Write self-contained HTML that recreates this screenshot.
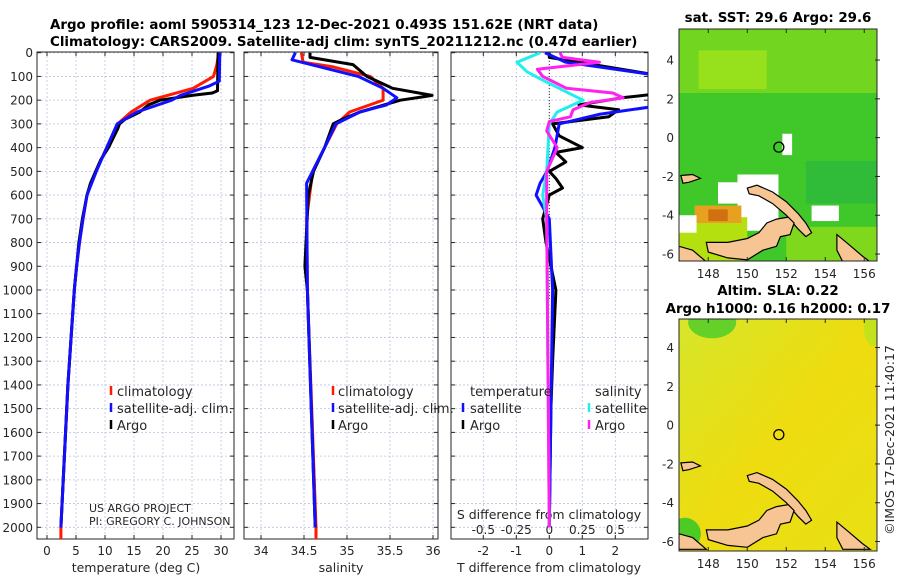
<!DOCTYPE html>
<html><head><meta charset="utf-8"><style>
body{margin:0;background:#fff}
svg text{font-family:"DejaVu Sans","Liberation Sans",sans-serif;fill:#262626}
.t{font-weight:bold;font-size:13.4px;fill:#000}
.tk{font-size:12px}
.lg{font-size:13px}
.grid{stroke:#b8c4e0;stroke-width:0.8;stroke-dasharray:2,2}
</style></head><body>
<svg id="c" width="900" height="580" xmlns="http://www.w3.org/2000/svg">
<defs>
<clipPath id="cp1"><rect x="37" y="52" width="197" height="487"/></clipPath>
<clipPath id="cp2"><rect x="244" y="52" width="194" height="487"/></clipPath>
<clipPath id="cp3"><rect x="451" y="52" width="197" height="487"/></clipPath>
<clipPath id="cm1"><rect x="679" y="29" width="198" height="232"/></clipPath>
<clipPath id="cm2"><rect x="679" y="319" width="198" height="232"/></clipPath>
<linearGradient id="g2" x1="0" y1="0" x2="1" y2="1">
<stop offset="0" stop-color="#d6e62a"/><stop offset="0.5" stop-color="#eedc10"/><stop offset="1" stop-color="#e8e014"/></linearGradient>
</defs>
<text class="t" x="50" y="29">Argo profile: aoml 5905314_123 12-Dec-2021 0.493S 151.62E (NRT data)</text>
<text class="t" x="50" y="46">Climatology: CARS2009. Satellite-adj clim: synTS_20211212.nc (0.47d earlier)</text>
<g id="p1"></g>
<g id="p2"></g>
<g id="p3"></g>
<g id="m1"></g>
<g id="m2"></g>
<text class="t" x="778" y="22" text-anchor="middle">sat. SST: 29.6 Argo: 29.6</text>
<text class="t" x="778" y="295" text-anchor="middle">Altim. SLA: 0.22</text>
<text class="t" x="778" y="313" text-anchor="middle">Argo h1000: 0.16 h2000: 0.17</text>
<text class="tk" x="0" y="0" transform="translate(894,440) rotate(-90)" text-anchor="middle" style="font-size:12.5px">©IMOS 17-Dec-2021 11:40:17</text>
</svg>
<script>
// ---- data ----
const depthTicks=[0,100,200,300,400,500,600,700,800,900,1000,1100,1200,1300,1400,1500,1600,1700,1800,1900,2000];
const tempTicks=[0,5,10,15,20,25,30];
const salTicks=[34,34.5,35,35.5,36];
const salTickLabels=["34","34.5","35","35.5","36"];
const tdiffTicks=[-2,-1,0,1,2];
const sdiffTicks=[-0.5,-0.25,0,0.25,0.5];
const sdiffTickLabels=["-0.5","-0.25","0","0.25","0.5"];

const tClimDepth=[0,50,100,150,200,250,300,400,500,600,700,800,900,1000,1400,2000,2050];
const tClimVal=[29.6,29.3,28.7,25.2,17.8,14.5,12.2,10.3,8.4,6.9,6.2,5.6,5.1,4.7,3.6,2.4,2.4];
const tSatDepth=[0,120,140,180,200,250,300,400,500,600,700,800,900,1000,1400,2000];
const tSatVal=[29.8,29.7,28,23,21.5,15.5,12.1,10.3,8.5,6.9,6.2,5.6,5.1,4.7,3.6,2.4];
const tArgoDepth=[0,160,170,180,200,220,250,280,300,320,400,450,500,550,600,700,800,900,1000,1400,2000];
const tArgoVal=[29.5,29.4,28.5,25,19.5,17.5,16,13.5,12.5,12.2,10.6,9.3,8.4,7.5,6.9,6.1,5.5,5.1,4.7,3.6,2.4];

const sClimDepth=[0,40,60,100,150,200,250,300,400,500,700,1000,2000,2050];
const sClimVal=[34.47,34.49,34.84,35.27,35.42,35.42,35.03,34.88,34.74,34.6,34.53,34.54,34.64,34.64];
const sSatDepth=[0,30,60,100,150,190,220,250,300,400,550,1000,2000];
const sSatVal=[34.4,34.36,34.69,35.13,35.42,35.58,35.46,35.15,34.87,34.74,34.53,34.54,34.63];
const sArgoDepth=[0,20,50,100,150,180,185,200,250,280,300,400,500,600,900,1000,2000];
const sArgoVal=[34.57,34.57,35.07,35.23,35.53,35.99,35.9,35.62,35.15,34.95,34.84,34.74,34.61,34.55,34.51,34.54,34.63];

const dTSatDepth=[0,40,100,220,260,300,400,500,550,600,650,700,1000,2000];
const dTSatVal=[-0.13,0.5,3.5,3.5,1.5,0.3,0.17,-0.07,-0.28,-0.4,-0.2,0,0.1,0];
const dTArgoDepth=[0,20,100,170,190,220,240,270,300,350,400,420,460,500,530,570,600,700,800,1000,1300,1500,2000];
const dTArgoVal=[0,0,3.5,3.5,2.2,0.9,2.1,1.8,0.1,0.3,1.0,0.2,0.5,0,0.2,0.4,0,-0.2,-0.1,0.2,0.1,0.05,0];
const dSSatDepth=[0,40,80,110,200,250,300,500,600,700,2000];
const dSSatVal=[-0.07,-0.245,-0.17,-0.07,0.255,0.06,0,-0.02,-0.05,-0.02,0];
const dSArgoDepth=[0,20,40,70,100,150,170,190,210,240,270,290,330,400,500,700,2000];
const dSArgoVal=[0.08,0.1,0.38,-0.09,-0.05,0.13,0.48,0.56,0.31,0.18,0.16,0,-0.02,0.06,-0.02,-0.02,0];

// ---- scales ----
const Y=d=>52.7+d*0.2373;
const X1=t=>47+5.8*t;
const X2=s=>261+86*(s-34);
const X3=t=>549.3+33*t;
const XS=s=>549.3+132*s;
const NS='http://www.w3.org/2000/svg';
function mk(p,tag,at){const e=document.createElementNS(NS,tag);for(const k in at)e.setAttribute(k,at[k]);p.appendChild(e);return e;}
function txt(p,x,y,s,cls,anchor){const e=mk(p,'text',{x:x,y:y,class:cls||'tk','text-anchor':anchor||'middle'});e.textContent=s;return e;}

function panel(g,x0,x1,xt,XF){
  depthTicks.forEach(d=>{const l=mk(g,'line',{x1:x0,x2:x1,y1:Y(d),y2:Y(d),class:'grid'});
    
    mk(g,'line',{x1:x0,x2:x0+4,y1:Y(d),y2:Y(d),stroke:'#262626'});mk(g,'line',{x1:x1-4,x2:x1,y1:Y(d),y2:Y(d),stroke:'#262626'});});
  xt.forEach(v=>{const l=mk(g,'line',{x1:XF(v),x2:XF(v),y1:52,y2:539,class:'grid'});
    
    mk(g,'line',{x1:XF(v),x2:XF(v),y1:535,y2:539,stroke:'#262626'});mk(g,'line',{x1:XF(v),x2:XF(v),y1:52,y2:56,stroke:'#262626'});});
  const b=mk(g,'rect',{x:x0,y:52,width:x1-x0,height:487,fill:'none',stroke:'#262626','stroke-width':1});
  
}
function line(g,ds,vs,XF,color,clip,name,w){
  const pts=ds.map((d,i)=>XF(vs[i]).toFixed(1)+','+Y(d).toFixed(1)).join(' ');
  const p=mk(g,'polyline',{points:pts,fill:'none',stroke:color,'stroke-width':w||3,'stroke-linejoin':'round','clip-path':'url(#'+clip+')'});
  
}
function legendBar(g,x,y,color){mk(g,'line',{x1:x,x2:x,y1:y-11,y2:y-2,stroke:color,'stroke-width':2.5});}

// panel 1
const p1=document.getElementById('p1');
panel(p1,37,234,tempTicks,X1);
depthTicks.forEach(d=>{const t=txt(p1,33,Y(d)+4.5,String(d),'tk','end');});
tempTicks.forEach(v=>{const t=txt(p1,X1(v),555,String(v));});
txt(p1,136,572,'temperature (deg C)','tk').style.fontSize='12.5px';
line(p1,tClimDepth,tClimVal,X1,'#ff1a00','cp1','temp-climatology-line');
line(p1,tArgoDepth,tArgoVal,X1,'#000','cp1','temp-argo-line');
line(p1,tSatDepth,tSatVal,X1,'#1010ff','cp1','temp-satellite-line');
[['climatology','#ff1a00'],['satellite-adj. clim.','#1010ff'],['Argo','#000']].forEach((r,i)=>{legendBar(p1,111,397+i*17,r[1]);const t=txt(p1,117,396+i*17,r[0],'lg','start');});
txt(p1,89,512,'US ARGO PROJECT','tk','start').style.fontSize='11px';
txt(p1,89,525,'PI: GREGORY C. JOHNSON','tk','start').style.fontSize='11px';

// panel 2
const p2=document.getElementById('p2');
panel(p2,244,438,salTicks,X2);
salTicks.forEach((v,i)=>{const t=txt(p2,X2(v),555,salTickLabels[i]);});
txt(p2,341,572,'salinity','tk').style.fontSize='12.5px';
line(p2,sClimDepth,sClimVal,X2,'#ff1a00','cp2','sal-climatology-line');
line(p2,sArgoDepth,sArgoVal,X2,'#000','cp2','sal-argo-line');
line(p2,sSatDepth,sSatVal,X2,'#1010ff','cp2','sal-satellite-line');
[['climatology','#ff1a00'],['satellite-adj. clim.','#1010ff'],['Argo','#000']].forEach((r,i)=>{legendBar(p2,333,397+i*17,r[1]);const t=txt(p2,338,396+i*17,r[0],'lg','start');});

// panel 3
const p3=document.getElementById('p3');
panel(p3,451,648,tdiffTicks,X3);
tdiffTicks.forEach(v=>{const t=txt(p3,X3(v),555,String(v));});
txt(p3,549,572,'T difference from climatology','tk').style.fontSize='12.5px';
sdiffTicks.forEach((v,i)=>{const t=txt(p3,XS(v),534,sdiffTickLabels[i]);});
txt(p3,549,519,'S difference from climatology','tk').style.fontSize='12.5px';
mk(p3,'line',{x1:X3(0),x2:X3(0),y1:52,y2:300,stroke:'#333','stroke-width':1,'stroke-dasharray':'1,2'});
line(p3,dTArgoDepth,dTArgoVal,X3,'#000','cp3','tdiff-argo-line');
line(p3,dTSatDepth,dTSatVal,X3,'#1010ff','cp3','tdiff-satellite-line');
line(p3,dSSatDepth,dSSatVal,XS,'#22eeee','cp3','sdiff-satellite-line');
line(p3,dSArgoDepth,dSArgoVal,XS,'#ff22ee','cp3','sdiff-argo-line');
txt(p3,470,396,'temperature','lg','start');
txt(p3,595,396,'salinity','lg','start');
[['satellite','#1010ff',463,470],['Argo','#000',463,470],['satellite','#22eeee',589,595],['Argo','#ff22ee',589,595]].forEach((r,i)=>{const row=i%2;legendBar(p3,r[2],414+row*17,r[1]);const t=txt(p3,r[3],413+row*17,r[0],'lg','start');});

// ---- maps ----
const lonTicks=[148,150,152,154,156];
const latTicks=[4,2,0,-2,-4,-6];
const argoLon=151.62, argoLat=-0.49;
const land=[
 [[150.0,-2.6],[150.5,-2.45],[151.3,-2.8],[152.0,-3.3],[152.6,-3.9],[153.0,-4.4],[153.3,-4.9],[153.0,-5.1],[152.6,-4.7],[152.0,-4.0],[151.3,-3.4],[150.6,-3.0],[150.1,-2.9]],
 [[147.9,-5.4],[149.0,-5.4],[150.0,-5.2],[150.6,-4.9],[151.0,-4.4],[151.5,-4.2],[152.1,-4.1],[152.4,-4.4],[152.2,-5.0],[151.7,-5.1],[151.5,-5.6],[150.8,-5.8],[150.0,-6.3],[149.0,-6.2],[148.0,-5.9]],
 [[146.5,-5.6],[147.2,-5.8],[147.9,-6.4],[146.5,-6.4]],
 [[146.6,-1.95],[147.2,-1.9],[147.6,-2.1],[147.0,-2.3],[146.7,-2.35]],
 [[154.6,-5.0],[155.2,-5.5],[155.9,-6.1],[156.3,-6.4],[154.9,-6.4],[154.6,-5.8]]
];
function map(gid,top,lat0,clip,draw){
  const g=document.getElementById(gid);
  const MX=l=>679+(l-146.5)*19.5, MY=l=>top+(lat0-l)*19.4;
  const inner=mk(g,'g',{'clip-path':'url(#'+clip+')'});
  draw(inner,MX,MY);
  land.forEach(poly=>{const p=mk(inner,'polygon',{points:poly.map(q=>MX(q[0]).toFixed(1)+','+MY(q[1]).toFixed(1)).join(' '),fill:'#f7c593',stroke:'#000','stroke-width':1.2});});
  const c=mk(inner,'circle',{cx:MX(argoLon),cy:MY(argoLat),r:5,fill:'none',stroke:'#000','stroke-width':1.3});
  
  mk(g,'rect',{x:679,y:top,width:198,height:232,fill:'none',stroke:'#262626'});
  lonTicks.forEach(l=>{mk(g,'line',{x1:MX(l),x2:MX(l),y1:top,y2:top+4,stroke:'#262626'});mk(g,'line',{x1:MX(l),x2:MX(l),y1:top+228,y2:top+232,stroke:'#262626'});const t=txt(g,MX(l),top+249,String(l));});
  latTicks.forEach(l=>{mk(g,'line',{x1:875,x2:880,y1:MY(l),y2:MY(l),stroke:'#262626'});const t=txt(g,674,MY(l)+4.5,String(l),'tk','end');});
}
map('m1',29,5.6,'cm1',(g,MX,MY)=>{
  mk(g,'rect',{x:679,y:29,width:198,height:232,fill:'#40c82a'});
  mk(g,'rect',{x:679,y:29,width:198,height:MY(2.3)-29,fill:'#72d620'});
  mk(g,'rect',{x:MX(147.5),y:MY(4.5),width:MX(151)-MX(147.5),height:MY(2.5)-MY(4.5),fill:'#96e01c'});
  mk(g,'rect',{x:MX(149.5),y:MY(-1.9),width:MX(151.6)-MX(149.5),height:MY(-4.8)-MY(-1.9),fill:'#fff'});
  mk(g,'rect',{x:MX(148.5),y:MY(-2.3),width:MX(149.6)-MX(148.5),height:MY(-3.4)-MY(-2.3),fill:'#fff'});
  mk(g,'rect',{x:MX(146.5),y:MY(-4.1),width:MX(150)-MX(146.5),height:MY(-6.4)-MY(-4.1),fill:'#b4e010'});
  mk(g,'rect',{x:MX(147.3),y:MY(-3.5),width:MX(149.7)-MX(147.3),height:MY(-4.4)-MY(-3.5),fill:'#e8a020'});
  mk(g,'rect',{x:MX(148),y:MY(-3.7),width:MX(149)-MX(148),height:MY(-4.3)-MY(-3.7),fill:'#d07010'});
  mk(g,'rect',{x:MX(146.5),y:MY(-4.0),width:MX(147.4)-MX(146.5),height:MY(-4.9)-MY(-4.0),fill:'#fff'});
  mk(g,'rect',{x:MX(153.3),y:MY(-3.5),width:MX(154.7)-MX(153.3),height:MY(-4.3)-MY(-3.5),fill:'#fff'});
  mk(g,'rect',{x:MX(151.8),y:MY(0.2),width:MX(152.3)-MX(151.8),height:MY(-0.9)-MY(0.2),fill:'#fff'});
  mk(g,'rect',{x:MX(153),y:MY(-1.2),width:MX(156.7)-MX(153),height:MY(-3.4)-MY(-1.2),fill:'#30bc38'});
  mk(g,'rect',{x:MX(152),y:MY(-4.6),width:MX(156.7)-MX(152),height:MY(-6.4)-MY(-4.6),fill:'#80d81c'});
});
map('m2',319,5.47,'cm2',(g,MX,MY)=>{
  mk(g,'rect',{x:679,y:319,width:198,height:232,fill:'url(#g2)'});
  mk(g,'ellipse',{cx:MX(148.2),cy:MY(5.3),rx:24,ry:16,fill:'#50cc28',opacity:0.85});
  mk(g,'ellipse',{cx:MX(146.8),cy:MY(-5.6),rx:16,ry:16,fill:'#3cc828',opacity:0.9});
  mk(g,'ellipse',{cx:MX(156.5),cy:MY(5),rx:10,ry:18,fill:'#b8e41e',opacity:0.8});
});
</script>
</body></html>
